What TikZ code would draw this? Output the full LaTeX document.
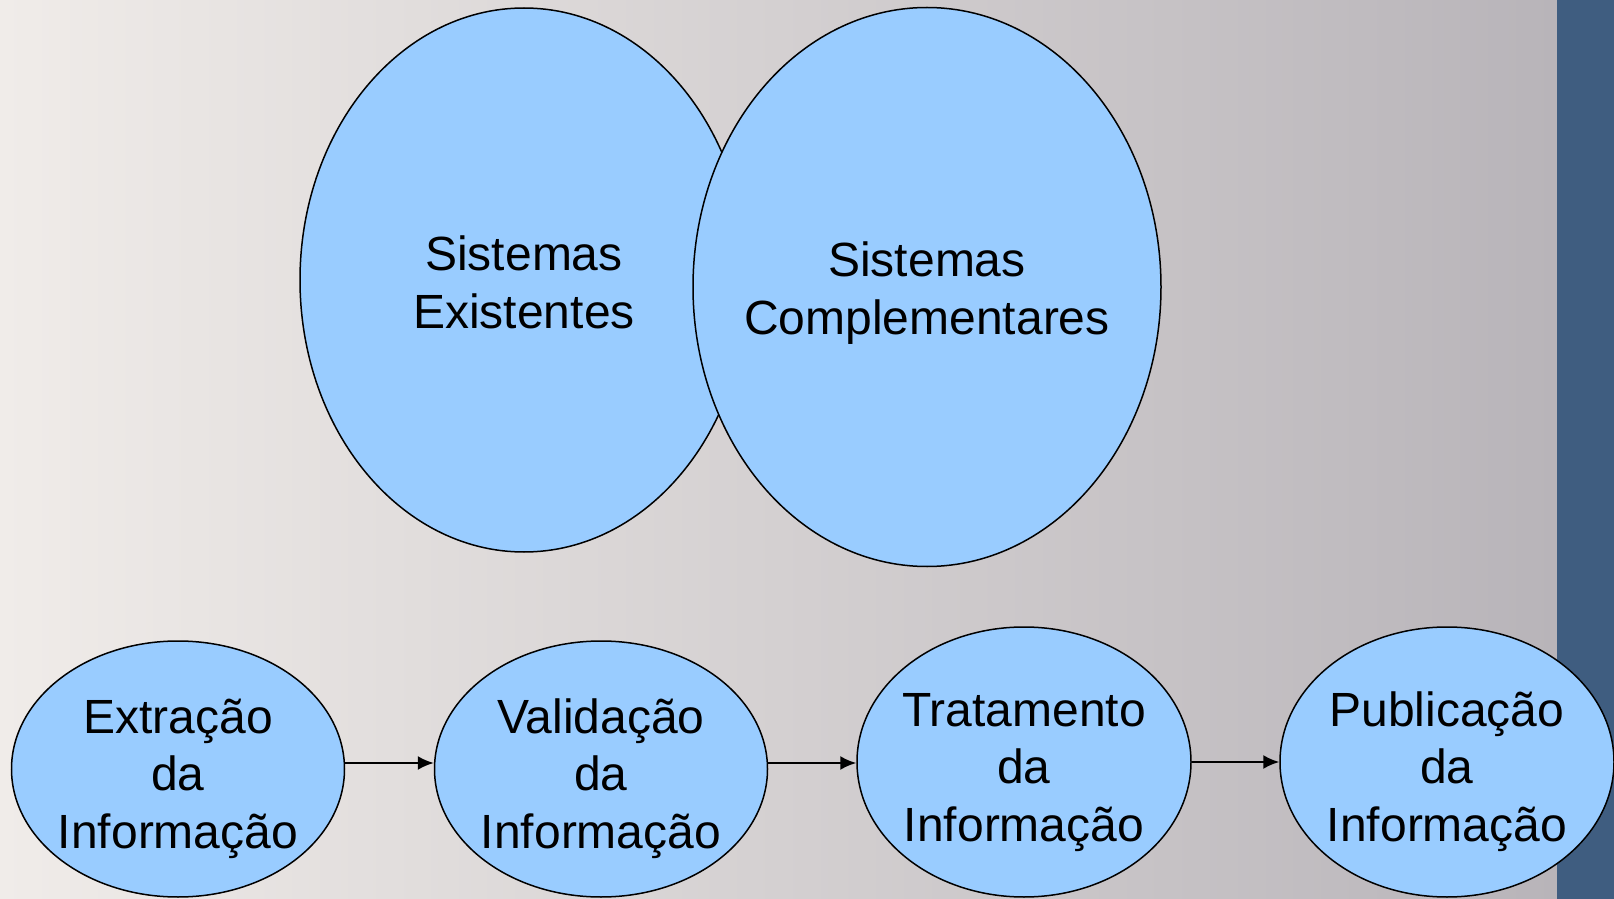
\documentclass[tikz,border=0pt]{standalone}
\usepackage{fontspec}
\setmainfont{Liberation Sans}
\usetikzlibrary{shapes.geometric,arrows.meta}
\definecolor{bubblefill}{RGB}{153,204,255}
\definecolor{bgleft}{RGB}{240,236,233}
\definecolor{bgmid}{RGB}{228,222,220}
\definecolor{bgright}{RGB}{184,180,185}
\definecolor{strip}{RGB}{63,93,128}
\newcommand{\toppad}[1]{\rule{0pt}{#1}}

\begin{document}
\begin{tikzpicture}
		[x=0.5pt,y=-0.5pt,
		bubble/.style={ellipse,draw,fill=bubblefill,line width=0.75pt,inner xsep=-30pt,inner ysep=0pt,align=center,font=\fontsize{24}{28.8}\selectfont},
		flow/.style={-{Latex[length=8pt,width=7pt]},line width=1pt}]
		\useasboundingbox (0,0) rectangle (1614,899);
		\shade[left color=bgleft,middle color=bgmid,right color=bgright] (0,0) rectangle (1557,899);
		\fill[strip] (1557,0) rectangle (1614,899);

		\node[bubble,minimum width=224pt,minimum height=272pt] (e1) at (524,280) {\toppad{19.5pt}Sistemas\\Existentes};
		\node[bubble,minimum width=234pt,minimum height=279.5pt] (e2) at (927,287) {\toppad{23.5pt}Sistemas\\Complementares};

		\node[bubble,minimum width=166.5pt,minimum height=128pt] (n1) at (178,769) {\toppad{27pt}Extração\\da\\Informação};
		\node[bubble,minimum width=166.5pt,minimum height=128pt] (n2) at (601,769) {\toppad{27pt}Validação\\da\\Informação};
		\node[bubble,minimum width=167pt,minimum height=135pt] (n3) at (1024,762) {\toppad{27pt}Tratamento\\da\\Informação};
		\node[bubble,minimum width=167pt,minimum height=135pt] (n4) at (1447,762) {\toppad{27pt}Publicação\\da\\Informação};

		\draw[flow] ([yshift=3pt]n1.east) -- ([yshift=3pt]n2.west);
		\draw[flow] ([yshift=3pt]n2.east) -- ([yshift=3pt]n2.east -| n3.west);
		\draw[flow] (n3.east) -- (n4.west);

	\end{tikzpicture}
\end{document}
